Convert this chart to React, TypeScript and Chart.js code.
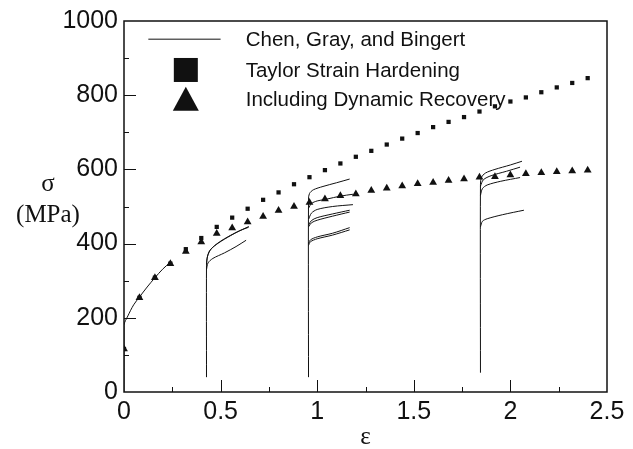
import React, { useEffect, useRef } from "react";
import { Chart, registerables } from "chart.js";

Chart.register(...registerables);

// ---- Data (strain ε, stress σ in MPa) ----
const modelStrain = [0, 0.08, 0.16, 0.24, 0.32, 0.4, 0.48, 0.56, 0.64, 0.72, 0.8, 0.88, 0.96, 1.04, 1.12, 1.2, 1.28, 1.36, 1.44, 1.52, 1.6, 1.68, 1.76, 1.84, 1.92, 2.0, 2.08, 2.16, 2.24, 2.32, 2.4];
const taylorStress = [116, 254, 308, 346, 385, 415, 445, 470, 494, 518, 538, 560, 579, 598, 616, 634, 650, 667, 683, 698, 714, 728, 741, 756, 770, 783, 794, 808, 821, 833, 846];
const recoveryStress = [116, 254, 308, 346, 379, 404, 427, 442, 458, 473, 489, 500, 511, 520, 529, 534, 543, 549, 555, 561, 565, 570, 574, 579, 580, 585, 588, 591, 594, 596, 598];

// Chen, Gray, and Bingert experimental curves: [strain, stress]
const cgbInitial = [[0, 0], [0, 180], [0.02, 205], [0.05, 235], [0.08, 256], [0.12, 283], [0.16, 308], [0.2, 331], [0.24, 350]];
const cgb043a = [[0.427, 40], [0.427, 340], [0.43, 360], [0.44, 378], [0.47, 395], [0.52, 413], [0.58, 430], [0.646, 446]];
const cgb043b = [[0.427, 345], [0.432, 365], [0.45, 385], [0.49, 402], [0.55, 421], [0.6, 435], [0.645, 444]];
const cgb043c = [[0.427, 330], [0.435, 348], [0.46, 360], [0.52, 375], [0.58, 392], [0.632, 409]];
const cgb095a = [[0.955, 40], [0.955, 520], [0.96, 535], [0.98, 545], [1.03, 554], [1.1, 564], [1.168, 574]];
const cgb095b = [[0.955, 495], [0.97, 508], [1.0, 515], [1.05, 520], [1.12, 528], [1.185, 533]];
const cgb095c = [[0.955, 465], [0.97, 482], [1.0, 492], [1.08, 500], [1.185, 505]];
const cgb095d = [[0.955, 450], [0.97, 462], [1.0, 470], [1.08, 480], [1.168, 490]];
const cgb095e = [[0.955, 445], [0.97, 456], [1.0, 463], [1.08, 474], [1.168, 485]];
const cgb095f = [[0.955, 400], [0.965, 410], [1.0, 418], [1.08, 428], [1.168, 443]];
const cgb095g = [[0.955, 395], [0.965, 405], [1.0, 413], [1.08, 423], [1.168, 437]];
const cgb185a = [[1.845, 52], [1.845, 560], [1.85, 578], [1.87, 590], [1.92, 600], [2.0, 612], [2.06, 622]];
const cgb185b = [[1.845, 555], [1.86, 572], [1.9, 583], [1.98, 595], [2.05, 606]];
const cgb185c = [[1.845, 530], [1.855, 548], [1.88, 558], [1.95, 568], [2.05, 578]];
const cgb185d = [[1.845, 445], [1.855, 460], [1.88, 467], [1.96, 478], [2.07, 490]];
const cgbCurves = [cgbInitial, cgb043a, cgb043b, cgb043c, cgb095a, cgb095b, cgb095c, cgb095d, cgb095e, cgb095f, cgb095g, cgb185a, cgb185b, cgb185c, cgb185d];

const legendLabels = ["Chen, Gray, and Bingert", "Taylor Strain Hardening", "Including Dynamic Recovery"];
const yTitleLines = ["σ", "(MPa)"];
const xTitle = "ε";
const yMinorStep = 100;
const yMajorStep = 200;
const xMinorStep = 0.25;
const xMajorStep = 0.5;

const INK = "#111";
const SANS = "'Liberation Sans', Arial, Helvetica, sans-serif";
const SERIF = "'Liberation Serif', 'Times New Roman', serif";

const overlay = {
  id: "overlay",
  afterDatasetsDraw(chart: any) {
    const { ctx, chartArea: a, scales } = chart;
    const x = scales.x;
    const y = scales.y;
    ctx.save();
    ctx.strokeStyle = INK;
    ctx.lineWidth = 1.5;
    ctx.strokeRect(a.left, a.top, a.right - a.left, a.bottom - a.top);
    ctx.lineWidth = 1;
    ctx.beginPath();
    for (let v = yMinorStep; v < y.max; v += yMinorStep) {
      const py = Math.round(y.getPixelForValue(v)) + 0.5;
      const len = v % yMajorStep === 0 ? 12 : 5;
      ctx.moveTo(a.left, py);
      ctx.lineTo(a.left + len, py);
    }
    for (let i = 1; i * xMinorStep < x.max - 1e-9; i++) {
      const v = i * xMinorStep;
      const px = Math.round(x.getPixelForValue(v)) + 0.5;
      const isMajor = Math.abs(v / xMajorStep - Math.round(v / xMajorStep)) < 1e-9;
      const len = isMajor ? 12 : 5;
      ctx.moveTo(px, a.bottom);
      ctx.lineTo(px, a.bottom - len);
    }
    ctx.stroke();

    // axis titles
    ctx.fillStyle = INK;
    ctx.textAlign = "center";
    ctx.textBaseline = "middle";
    ctx.font = `25px ${SERIF}`;
    ctx.fillText(yTitleLines[0], 48, 184);
    ctx.fillText(yTitleLines[1], 48, 215);
    ctx.fillText(xTitle, (a.left + a.right) / 2, 437);

    // legend
    const lx = x.getPixelForValue(0.32);
    const textX = x.getPixelForValue(0.63);
    const rowY = [y.getPixelForValue(951), y.getPixelForValue(868), y.getPixelForValue(788)];
    ctx.lineWidth = 1;
    ctx.beginPath();
    ctx.moveTo(x.getPixelForValue(0.126), rowY[0]);
    ctx.lineTo(x.getPixelForValue(0.5), rowY[0]);
    ctx.stroke();
    ctx.fillRect(lx - 12, rowY[1] - 12, 24, 24);
    ctx.beginPath();
    ctx.moveTo(lx, rowY[2] - 13);
    ctx.lineTo(lx + 13, rowY[2] + 11);
    ctx.lineTo(lx - 13, rowY[2] + 11);
    ctx.closePath();
    ctx.fill();
    ctx.textAlign = "left";
    ctx.font = `20.5px ${SANS}`;
    legendLabels.forEach((t, i) => ctx.fillText(t, textX, rowY[i] + 1));
    ctx.restore();
  },
};

export default function App() {
  const ref = useRef<HTMLCanvasElement>(null);
  useEffect(() => {
    if (!ref.current) return;
    const lineSets = cgbCurves.map((c, i) => ({
      label: i === 0 ? legendLabels[0] : "",
      data: c.map(([sx, sy]) => ({ x: sx, y: sy })),
      borderColor: INK,
      borderWidth: 1,
      pointRadius: 0,
      showLine: true,
      fill: false,
      tension: 0.3,
      order: 2,
    }));
    const chart = new Chart(ref.current, {
      type: "scatter",
      data: {
        datasets: [
          {
            label: legendLabels[1],
            data: modelStrain.map((s, i) => ({ x: s, y: taylorStress[i] })),
            pointStyle: "rect",
            pointRadius: 3,
            backgroundColor: INK,
            borderColor: INK,
            borderWidth: 0,
            order: 1,
          },
          {
            label: legendLabels[2],
            data: modelStrain.map((s, i) => ({ x: s, y: recoveryStress[i] })),
            pointStyle: "triangle",
            pointRadius: 4.5,
            backgroundColor: INK,
            borderColor: INK,
            borderWidth: 0,
            order: 0,
          },
          ...lineSets,
        ] as any,
      },
      options: {
        responsive: false,
        animation: false,
        layout: { padding: { top: 17, right: 26, left: 0, bottom: 0 } },
        plugins: { legend: { display: false }, tooltip: { enabled: false } },
        scales: {
          x: {
            type: "linear",
            min: 0,
            max: 2.5,
            grid: { display: false, drawTicks: false },
            border: { display: false },
            ticks: { stepSize: 0.5, padding: 5, color: INK, font: { family: SANS, size: 25 }, callback: (v: any) => String(Number(v)) },
            afterFit: (s: any) => { s.height = 57; },
          },
          y: {
            type: "linear",
            min: 0,
            max: 1000,
            grid: { display: false, drawTicks: false },
            border: { display: false },
            ticks: { stepSize: 200, padding: 6, color: INK, font: { family: SANS, size: 25 }, callback: (v: any) => String(Number(v)) },
            afterFit: (s: any) => { s.width = 124; },
          },
        },
      },
      plugins: [overlay],
    });
    return () => chart.destroy();
  }, []);
  return (
    <div style={{ position: "absolute", left: 0, top: 0, width: 633, height: 449, background: "#fff" }}>
      <canvas ref={ref} width={633} height={449} />
    </div>
  );
}
